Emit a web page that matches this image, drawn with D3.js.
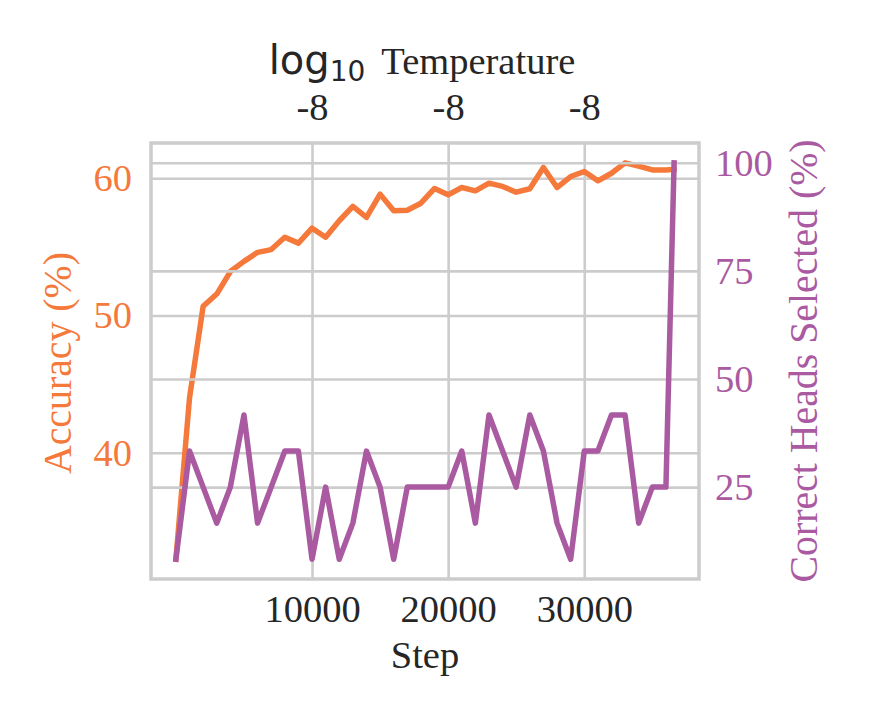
<!DOCTYPE html>
<html>
<head>
<meta charset="utf-8">
<script src="https://cdn.jsdelivr.net/npm/d3@7"></script>
<style>
  html, body { margin: 0; padding: 0; background: #fff; overflow: hidden; }
  svg { display: block; }
  text { font-family: "Liberation Serif", "Times New Roman", serif; }
</style>
</head>
<body>
<svg id="chart" width="872" height="727"></svg>
<script>
  const steps = [0, 1000, 2000, 3000, 4000, 5000, 6000, 7000, 8000, 9000,
    10000, 11000, 12000, 13000, 14000, 15000, 16000, 17000, 18000, 19000,
    20000, 21000, 22000, 23000, 24000, 25000, 26000, 27000, 28000, 29000,
    30000, 31000, 32000, 33000, 34000, 35000, 36000, 36600];
  const accuracy = [32.25, 44.0, 50.67, 51.56, 53.2, 53.94, 54.6, 54.8, 55.7, 55.27,
    56.36, 55.7, 56.9, 57.94, 57.14, 58.84, 57.63, 57.67, 58.18, 59.25,
    58.79, 59.32, 59.08, 59.64, 59.4, 58.98, 59.23, 60.78, 59.32, 60.12,
    60.49, 59.81, 60.36, 61.12, 60.88, 60.6, 60.6, 60.65];
  const heads = [8.33, 33.33, 25, 16.67, 25, 41.67, 16.67, 25, 33.33, 33.33,
    8.33, 25, 8.33, 16.67, 33.33, 25, 8.33, 25, 25, 25,
    25, 33.33, 16.67, 41.67, 33.33, 25, 41.67, 33.33, 16.67, 8.33,
    33.33, 33.33, 41.67, 41.67, 16.67, 25, 25, 100];
  const stepTicks = [10000, 20000, 30000];
  const tempTickLabels = ['-8', '-8', '-8'];
  const accTicks = [40, 50, 60];
  const headTicks = [25, 50, 75, 100];

  const orange = '#F5793A';
  const purple = '#A95AA1';
  const gridColor = '#cccccc';
  const textColor = '#262626';
  const fontSize = 38.5;
  const sideLabelSize = 39.8;

  const margin = { top: 143, right: 173, bottom: 148, left: 151 };
  const width = 872, height = 727;
  const innerWidth = width - margin.left - margin.right;
  const innerHeight = height - margin.top - margin.bottom;

  // matplotlib-like 5% padding around the data
  const padded = ext => {
    const pad = (ext[1] - ext[0]) * 0.05;
    return [ext[0] - pad, ext[1] + pad];
  };

  const xScale = d3.scaleLinear().domain(padded(d3.extent(steps))).range([0, innerWidth]);
  const yLeft = d3.scaleLinear().domain(padded(d3.extent(accuracy))).range([innerHeight, 0]);
  const yRight = d3.scaleLinear().domain(padded(d3.extent(heads))).range([innerHeight, 0]);

  const svg = d3.select('#chart');
  const g = svg.append('g').attr('transform', `translate(${margin.left},${margin.top})`);

  const styleGrid = sel => {
    sel.select('.domain').remove();
    sel.selectAll('line').attr('stroke', gridColor).attr('stroke-width', 2.6);
    sel.selectAll('text').remove();
  };

  const styleLabels = color => sel => {
    sel.select('.domain').remove();
    sel.selectAll('line').remove();
    sel.attr('font-family', null).attr('font-size', fontSize);
    sel.selectAll('text').attr('fill', color);
  };

  // left axis grid (below orange line)
  g.append('g').attr('class', 'grid-left')
    .call(d3.axisLeft(yLeft).tickValues(accTicks).tickSize(-innerWidth)).call(styleGrid);
  g.append('g').attr('class', 'grid-x')
    .attr('transform', `translate(0,${innerHeight})`)
    .call(d3.axisBottom(xScale).tickValues(stepTicks).tickSize(-innerHeight)).call(styleGrid);

  const lineOf = (yScale, values) => d3.line()
    .x((d, i) => xScale(steps[i]))
    .y(d => yScale(d))(values);

  g.append('path')
    .attr('d', lineOf(yLeft, accuracy))
    .attr('fill', 'none')
    .attr('stroke', orange)
    .attr('stroke-width', 5.5)
    .attr('stroke-linejoin', 'round')
    .attr('stroke-linecap', 'square');

  // twin axis grid drawn above the first line
  g.append('g').attr('class', 'grid-right')
    .attr('transform', `translate(${innerWidth},0)`)
    .call(d3.axisRight(yRight).tickValues(headTicks).tickSize(-innerWidth)).call(styleGrid);

  g.append('path')
    .attr('d', lineOf(yRight, heads))
    .attr('fill', 'none')
    .attr('stroke', purple)
    .attr('stroke-width', 5.5)
    .attr('stroke-linejoin', 'round')
    .attr('stroke-linecap', 'square');

  // frame
  g.append('rect')
    .attr('width', innerWidth)
    .attr('height', innerHeight)
    .attr('fill', 'none')
    .attr('stroke', gridColor)
    .attr('stroke-width', 3.5);

  // tick labels through the axes
  g.append('g').attr('class', 'x-axis')
    .attr('transform', `translate(0,${innerHeight})`)
    .call(d3.axisBottom(xScale).tickValues(stepTicks).tickSize(0).tickPadding(16)
      .tickFormat(d3.format('d')))
    .call(styleLabels(textColor));

  g.append('g').attr('class', 'top-axis')
    .call(d3.axisTop(xScale).tickValues(stepTicks).tickSize(0).tickPadding(23)
      .tickFormat((d, i) => tempTickLabels[i]))
    .call(styleLabels(textColor));

  g.append('g').attr('class', 'y-axis-left')
    .call(d3.axisLeft(yLeft).tickValues(accTicks).tickSize(0).tickPadding(19))
    .call(styleLabels(orange));

  g.append('g').attr('class', 'y-axis-right')
    .attr('transform', `translate(${innerWidth},0)`)
    .call(d3.axisRight(yRight).tickValues(headTicks).tickSize(0).tickPadding(16))
    .call(styleLabels(purple));

  // axis labels
  g.append('text')
    .attr('x', innerWidth / 2)
    .attr('y', innerHeight + 89)
    .attr('text-anchor', 'middle')
    .attr('font-size', fontSize)
    .attr('fill', textColor)
    .text('Step');

  g.append('text')
    .attr('transform', `translate(${71 - margin.left},${innerHeight / 2 + 2}) rotate(-90)`)
    .attr('text-anchor', 'middle')
    .attr('font-size', sideLabelSize)
    .attr('fill', orange)
    .text('Accuracy (%)');

  g.append('text')
    .attr('transform', `translate(${817 - margin.left},${innerHeight / 2}) rotate(-90)`)
    .attr('text-anchor', 'middle')
    .attr('font-size', sideLabelSize)
    .attr('fill', purple)
    .text('Correct Heads Selected (%)');

  const title = g.append('text')
    .attr('x', innerWidth / 2 - 3)
    .attr('y', -69)
    .attr('text-anchor', 'middle')
    .attr('font-size', fontSize)
    .attr('fill', textColor);
  title.append('tspan').style('font-family', '"DejaVu Sans"').attr('font-size', 40).text('log');
  title.append('tspan').style('font-family', '"DejaVu Sans"')
    .attr('font-size', 28).attr('dy', 7).text('10');
  title.append('tspan').attr('dy', -7).attr('dx', 16).text('Temperature');
</script>
</body>
</html>
